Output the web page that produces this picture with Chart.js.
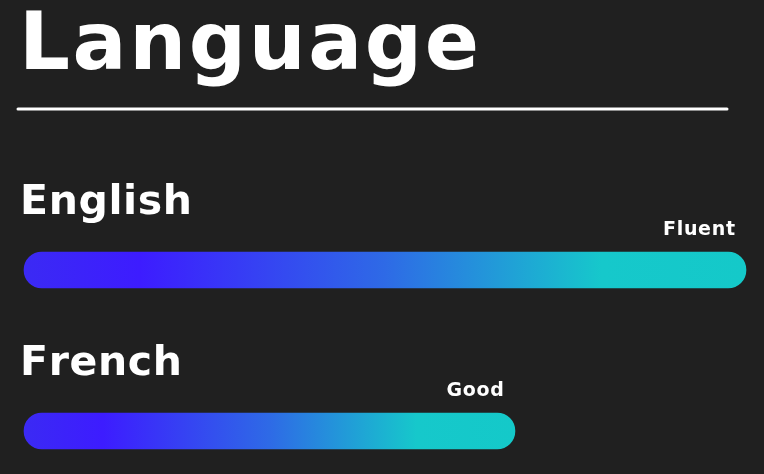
<!DOCTYPE html>
<html>
<head>
<meta charset="utf-8">
<script src="https://cdn.jsdelivr.net/npm/chart.js@4"></script>
<style>
  html, body { margin: 0; padding: 0; background: #202020; }
  canvas { display: block; background: #202020; }
</style>
</head>
<body>
<canvas id="c" width="764" height="474"></canvas>
<script>
const chartTitle = 'Language';
const languages = ['English', 'French'];
const levels = [100, 68];
const levelLabels = ['Fluent', 'Good'];

const FONT = "'DejaVu Sans', sans-serif";

function drawSpaced(ctx, text, x, y, spacing, align) {
  const chars = Array.from(text);
  const widths = chars.map(c => ctx.measureText(c).width);
  const total = widths.reduce((a, b) => a + b, 0) + spacing * (chars.length - 1);
  let cx = align === 'right' ? x - total : x;
  ctx.textAlign = 'left';
  chars.forEach((c, i) => { ctx.fillText(c, cx, y); cx += widths[i] + spacing; });
  return total;
}
function spacingToFit(ctx, text, width) {
  const chars = Array.from(text);
  const natural = chars.reduce((a, c) => a + ctx.measureText(c).width, 0);
  return (width - natural) / (chars.length - 1);
}

const decor = {
  id: 'decor',
  afterDraw(chart) {
    const ctx = chart.ctx;
    const ys = chart.scales.y, xs = chart.scales.x;
    ctx.save();
    ctx.fillStyle = '#ffffff';
    ctx.textBaseline = 'alphabetic';
    // title
    ctx.font = "bold 80px " + FONT;
    drawSpaced(ctx, chartTitle, 19, 69, spacingToFit(ctx, chartTitle, 460), 'left');
    // rule
    ctx.strokeStyle = '#ffffff';
    ctx.lineWidth = 3;
    ctx.lineCap = 'round';
    ctx.beginPath();
    ctx.moveTo(18, 109);
    ctx.lineTo(727, 109);
    ctx.stroke();
    // category labels & level labels
    ctx.font = "bold 41px " + FONT;
    const labSp = spacingToFit(ctx, languages[0], 172);
    ctx.font = "bold 19px " + FONT;
    const lvlSp = spacingToFit(ctx, levelLabels[0], 72);
    languages.forEach((lang, i) => {
      const yc = ys.getPixelForValue(i);
      ctx.font = "bold 41px " + FONT;
      drawSpaced(ctx, lang, 20, yc - 56, labSp, 'left');
      ctx.font = "bold 19px " + FONT;
      drawSpaced(ctx, levelLabels[i], xs.getPixelForValue(levels[i]) - 11, yc - 35, lvlSp, 'right');
    });
    ctx.restore();
  }
};

new Chart(document.getElementById('c'), {
  type: 'bar',
  data: {
    labels: languages,
    datasets: [{
      data: levels,
      barThickness: 36,
      borderRadius: 18,
      borderSkipped: false,
      clip: false,
      backgroundColor: (c) => {
        const chart = c.chart;
        if (!chart.chartArea || c.type !== 'data' || !chart.scales.x) return '#3d1cff';
        const xs = chart.scales.x;
        const x0 = xs.getPixelForValue(0);
        const x1 = xs.getPixelForValue(c.raw);
        const g = chart.ctx.createLinearGradient(x0, 0, x1, 0);
        g.addColorStop(0, '#3b2af4');
        g.addColorStop(0.16, '#3d1cff');
        g.addColorStop(0.5, '#2e6ae6');
        g.addColorStop(0.8, '#16c8cb');
        g.addColorStop(1, '#14c9c9');
        return g;
      }
    }]
  },
  options: {
    indexAxis: 'y',
    responsive: false,
    animation: false,
    layout: { padding: { left: 24, right: 18, top: 270, bottom: 43 } },
    plugins: { legend: { display: false }, tooltip: { enabled: false }, title: { display: false } },
    scales: {
      x: { display: false, min: 0, max: 100 },
      y: { display: false, offset: false }
    }
  },
  plugins: [decor]
});
</script>
</body>
</html>
